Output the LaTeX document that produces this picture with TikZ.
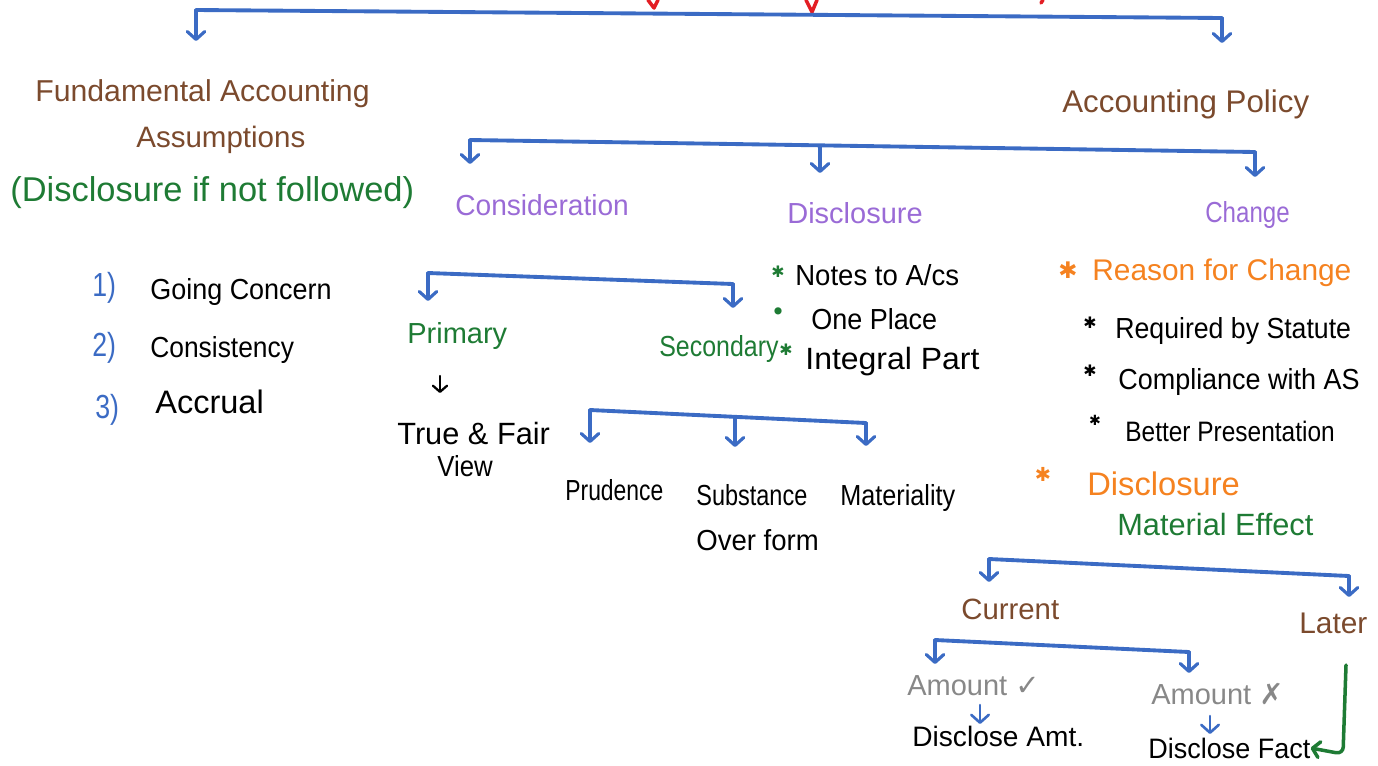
\documentclass[tikz,border=0pt]{standalone}
\usepackage{fontspec}
\usepackage{graphicx}
\setmainfont{Liberation Sans}
\newfontfamily\symfont{DejaVu Sans}
\usetikzlibrary{arrows.meta}
\definecolor{hblue}{RGB}{59,107,196}
\definecolor{hbrown}{RGB}{123,74,45}
\definecolor{hgreen}{RGB}{30,123,52}
\definecolor{hpurple}{RGB}{154,107,214}
\definecolor{horange}{RGB}{245,130,32}
\definecolor{hgray}{RGB}{136,136,136}
\definecolor{hred}{RGB}{227,30,36}
\newcommand\fsz[1]{\fontsize{#1}{#1}\selectfont}
\newcommand\hs[2]{\scalebox{#1}[1]{#2}}
\begin{document}
\begin{tikzpicture}[x=0.02cm,y=-0.02cm,
  lbl/.style={anchor=west, inner sep=0pt},
  bul/.style={inner sep=0pt, font=\symfont\fsz{9}},
  bar/.style={hblue, line width=2.2pt, line cap=round, line join=round},
  drop/.style={hblue, line width=1.8pt, line cap=round, -{Straight Barb[length=4.5pt,width=10pt,round]}},
  kdrop/.style={black, line width=1.3pt, line cap=round, -{Straight Barb[length=3.5pt,width=8pt,round]}},
  gconn/.style={hgreen, line width=2pt, line cap=round, rounded corners=4pt, -{Straight Barb[length=4pt,width=9pt,round]}},
  redmark/.style={hred, line width=2pt, line cap=round, line join=round}]
\useasboundingbox (0,0) rectangle (1378,765);

% red fragments at the top edge
\draw[redmark] (648,0) -- (654,8) -- (658,0);
\draw[redmark] (806,0) -- (812,12) -- (817,0);
\draw[redmark] (1043,0) -- (1041,3);

% ---------- texts ----------
\node[lbl,text=hbrown,font=\fsz{17.2}] (faa1) at (35,94) {Fundamental Accounting};
\node[lbl,text=hbrown,font=\fsz{16.8}] (faa2) at (136,140) {Assumptions};
\node[lbl,text=hgreen,font=\fsz{19.6}] (nf) at (10,193) {(Disclosure if not followed)};

\node[lbl,text=hblue,font=\fsz{19}] (n1) at (92,288) {\hs{0.8}{1)}};
\node[lbl,text=hblue,font=\fsz{19}] (n2) at (92,348) {\hs{0.8}{2)}};
\node[lbl,text=hblue,font=\fsz{19}] (n3) at (95,410) {\hs{0.8}{3)}};
\node[lbl,font=\fsz{16.5}] (gc) at (150,292) {\hs{0.93}{Going Concern}};
\node[lbl,font=\fsz{16.5}] (cons) at (150,350) {\hs{0.91}{Consistency}};
\node[lbl,font=\fsz{18.5}] (acc) at (155,402) {Accrual};

\node[lbl,text=hbrown,font=\fsz{17.8}] (ap) at (1062,104) {Accounting Policy};

\node[lbl,text=hpurple,font=\fsz{16.5}] (consid) at (455,205) {\hs{0.97}{Consideration}};
\node[lbl,text=hpurple,font=\fsz{16.5}] (discl) at (787,213) {Disclosure};
\node[lbl,text=hpurple,font=\fsz{16.5}] (chg) at (1205,215) {\hs{0.83}{Change}};

\node[lbl,text=hgreen,font=\fsz{16.5}] (prim) at (407,336) {Primary};
\node[lbl,text=hgreen,font=\fsz{16.5}] (sec) at (659,349) {\hs{0.86}{Secondary}};
\node[lbl,font=\fsz{17.5}] (tf) at (397,433) {True \& Fair};
\node[lbl,font=\fsz{16.5}] (view) at (437,466) {\hs{0.89}{View}};

\node[bul,text=hgreen] (bn1) at (778,272) {✱};
\node[lbl,font=\fsz{16.5}] (notes) at (795,275) {\hs{0.95}{Notes to A/cs}};
\node[bul,text=hgreen,font=\symfont\fsz{14}] (bn2) at (778,314) {•};
\node[lbl,font=\fsz{16.5}] (one) at (811,319) {\hs{0.93}{One Place}};
\node[bul,text=hgreen] (bn3) at (786,350) {✱};
\node[lbl,font=\fsz{17.5}] (integ) at (805,362) {\hs{1.04}{Integral Part}};

\node[lbl,font=\fsz{16.5}] (prud) at (565,490) {\hs{0.79}{Prudence}};
\node[lbl,font=\fsz{16.5}] (subst) at (696,495) {\hs{0.81}{Substance}};
\node[lbl,font=\fsz{16.5}] (over) at (696,540) {\hs{0.95}{Over form}};
\node[lbl,font=\fsz{16.5}] (mat) at (840,498) {\hs{0.87}{Materiality}};

\node[bul,text=horange,font=\symfont\fsz{13}] (so1) at (1068,270) {✱};
\node[lbl,text=horange,font=\fsz{17}] (rfc) at (1092,273) {Reason for Change};
\node[bul] (bk1) at (1090,323) {✱};
\node[lbl,font=\fsz{16.5}] (req) at (1115,331) {\hs{0.92}{Required by Statute}};
\node[bul] (bk2) at (1090,371) {✱};
\node[lbl,font=\fsz{16.5}] (comp) at (1118,382) {\hs{0.93}{Compliance with AS}};
\node[bul,font=\symfont\fsz{8}] (bk3) at (1095,420) {✱};
\node[lbl,font=\fsz{16}] (bet) at (1125,431) {\hs{0.87}{Better Presentation}};
\node[bul,text=horange,font=\symfont\fsz{11}] (so2) at (1043,474) {✱};
\node[lbl,text=horange,font=\fsz{18.6}] (disc2) at (1087,484) {Disclosure};
\node[lbl,text=hgreen,font=\fsz{17.5}] (meff) at (1117,524) {Material Effect};

\node[lbl,text=hbrown,font=\fsz{16.7}] (cur) at (961,609) {Current};
\node[lbl,text=hbrown,font=\fsz{17}] (later) at (1299,623) {Later};

\node[lbl,text=hgray,font=\fsz{16.5}] (amt1) at (907,686) {Amount {\symfont\bfseries ✓}};
\node[lbl,text=hgray,font=\fsz{16.5}] (amt2) at (1151,694) {Amount {\symfont\bfseries ✗}};
\node[lbl,font=\fsz{16}] (da) at (912,736) {Disclose Amt.};
\node[lbl,font=\fsz{16}] (df) at (1148,748) {\hs{0.96}{Disclose Fact}};

% ---------- connectors ----------
% top bracket
\coordinate (b1L) at (196,10);  \coordinate (b1R) at (1222,18);
\coordinate (t1a) at (196,41);  \coordinate (t1b) at (1222,43);
\draw[bar] (b1L) -- (b1R);
\draw[drop] (b1L) -- (t1a);
\draw[drop] (b1R) -- (t1b);

% accounting policy bracket
\coordinate (b2L) at (470,140); \coordinate (b2M) at (820,146); \coordinate (b2R) at (1255,152);
\coordinate (t2a) at (470,164); \coordinate (t2b) at (820,173); \coordinate (t2c) at (1255,177);
\draw[bar] (b2L) -- (b2R);
\draw[drop] (b2L) -- (t2a);
\draw[drop] (b2M) -- (t2b);
\draw[drop] (b2R) -- (t2c);

% consideration bracket
\coordinate (b3L) at (428,273); \coordinate (b3R) at (733,284);
\coordinate (t3a) at (428,301); \coordinate (t3b) at (733,308);
\draw[bar] (b3L) -- (b3R);
\draw[drop] (b3L) -- (t3a);
\draw[drop] (b3R) -- (t3b);

% primary -> true & fair view
\coordinate (k1) at (440,376); \coordinate (k1t) at (440,393);
\draw[kdrop] (k1) -- (k1t);

% secondary bracket
\coordinate (b4L) at (590,410); \coordinate (b4M) at (735,417); \coordinate (b4R) at (866,423);
\coordinate (t4a) at (590,443); \coordinate (t4b) at (735,447); \coordinate (t4c) at (866,446);
\draw[bar] (b4L) -- (b4R);
\draw[drop] (b4L) -- (t4a);
\draw[drop] (b4M) -- (t4b);
\draw[drop] (b4R) -- (t4c);

% material effect bracket
\coordinate (b5L) at (989,559); \coordinate (b5R) at (1349,576);
\coordinate (t5a) at (989,582); \coordinate (t5b) at (1349,597);
\draw[bar] (b5L) -- (b5R);
\draw[drop] (b5L) -- (t5a);
\draw[drop] (b5R) -- (t5b);

% current bracket
\coordinate (b6L) at (935,640); \coordinate (b6R) at (1189,652);
\coordinate (t6a) at (935,664); \coordinate (t6b) at (1189,673);
\draw[bar] (b6L) -- (b6R);
\draw[drop] (b6L) -- (t6a);
\draw[drop] (b6R) -- (t6b);

% amount -> disclose
\coordinate (s1) at (980,705); \coordinate (s1t) at (980,724);
\coordinate (s2) at (1210,716); \coordinate (s2t) at (1210,734);
\draw[drop,line width=1.5pt] (s1) -- (s1t);
\draw[drop,line width=1.5pt] (s2) -- (s2t);

% later -> disclose fact
\coordinate (g0) at (1346,665); \coordinate (g1) at (1343,754);
\draw[gconn] (g0) -- (g1) -- (df.east);
\end{tikzpicture}
\end{document}
